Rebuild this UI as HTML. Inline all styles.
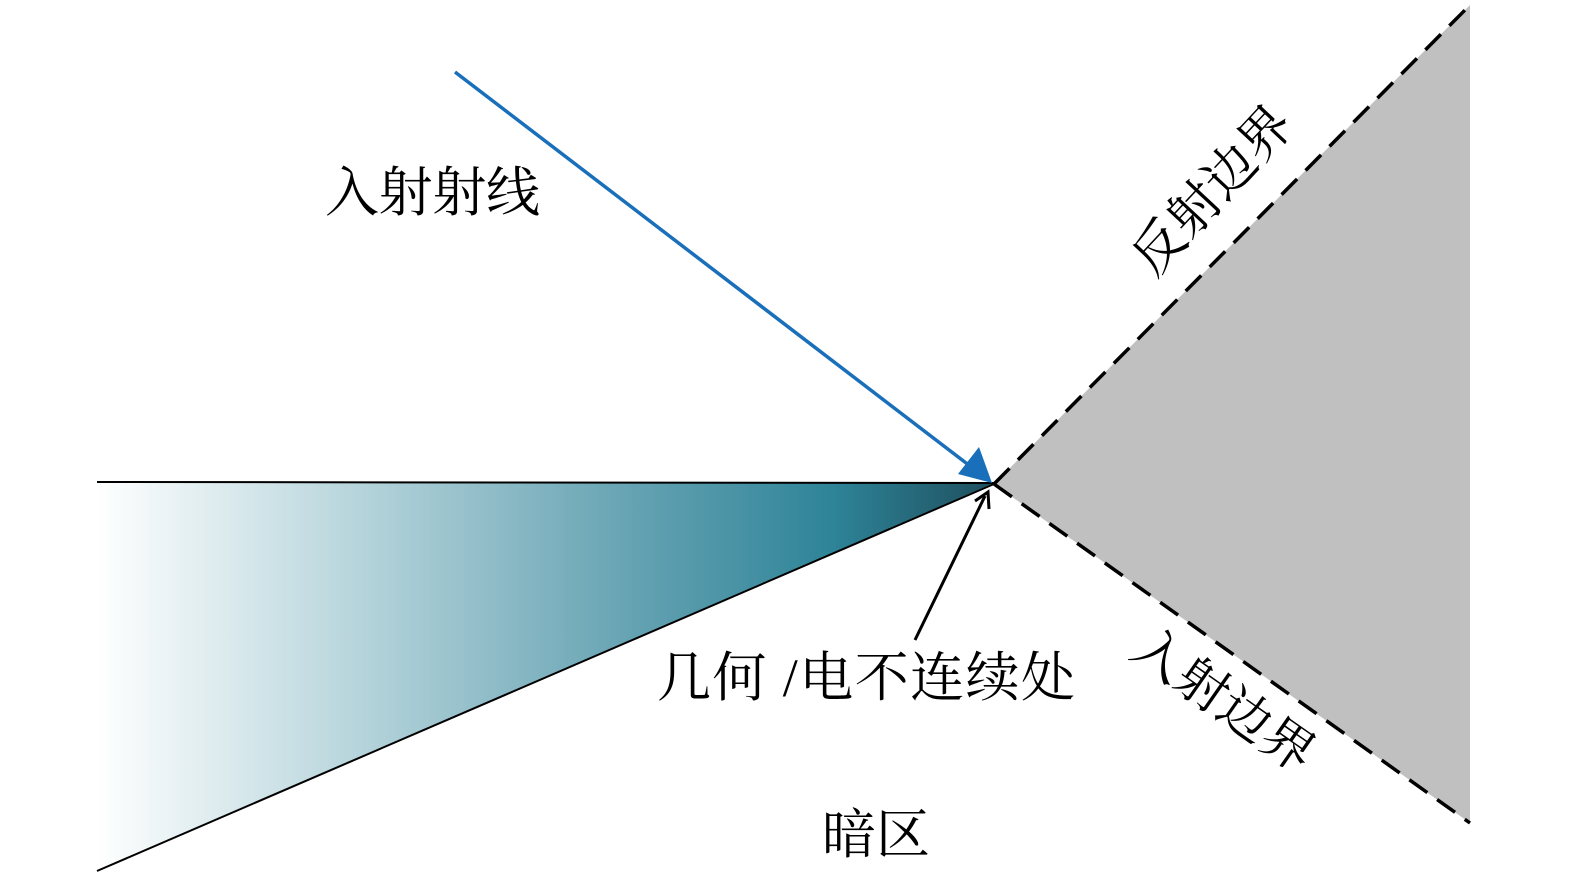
<!DOCTYPE html>
<html><head><meta charset="utf-8"><style>
html,body{margin:0;padding:0;background:#fff;width:1575px;height:880px;overflow:hidden}
text{font-family:"Liberation Serif","Noto Serif CJK SC",serif;fill:#000}
</style></head><body>
<svg width="1575" height="880" viewBox="0 0 1575 880" xmlns="http://www.w3.org/2000/svg">
<defs>
<linearGradient id="g" x1="97" y1="0" x2="994" y2="0" gradientUnits="userSpaceOnUse">
<stop offset="0" stop-color="#ffffff"/>
<stop offset="0.3" stop-color="#b4d3da"/>
<stop offset="0.6" stop-color="#64a2b2"/>
<stop offset="0.82" stop-color="#2e8498"/>
<stop offset="1" stop-color="#1e4f5e"/>
</linearGradient>
</defs>
<polygon points="994,484 1470,5 1470,823" fill="#c0c0c0"/>
<polygon points="97,482 994,483 97,871" fill="url(#g)"/>
<line x1="97" y1="482" x2="994" y2="483" stroke="#000" stroke-width="2"/>
<line x1="97" y1="871" x2="994" y2="484" stroke="#000" stroke-width="2"/>
<line x1="994" y1="484" x2="1470" y2="5" stroke="#000" stroke-width="3.5" stroke-dasharray="22,12"/>
<line x1="994" y1="484" x2="1470" y2="823" stroke="#000" stroke-width="3.5" stroke-dasharray="22,12"/>
<line x1="455" y1="72" x2="970" y2="466" stroke="#1a6fba" stroke-width="3.5"/>
<polygon points="992,483 958,474 979,447" fill="#1a6fba"/>
<line x1="915" y1="640" x2="985" y2="496" stroke="#000" stroke-width="3"/>
<polyline points="975,501 988,492 989,509" fill="none" stroke="#000" stroke-width="3"/>
<text x="325" y="211" font-size="54" textLength="215" lengthAdjust="spacing">入射射线</text>
<text x="657" y="696" font-size="54" textLength="418" lengthAdjust="spacing">几何 /电不连续处</text>
<text x="822" y="853" font-size="54">暗区</text>
<text transform="translate(1212,190) rotate(-47)" x="0" y="18" font-size="52" text-anchor="middle">反射边界</text>
<text transform="translate(1224,700) rotate(35)" x="0" y="18" font-size="52" text-anchor="middle">入射边界</text>
</svg>
</body></html>
